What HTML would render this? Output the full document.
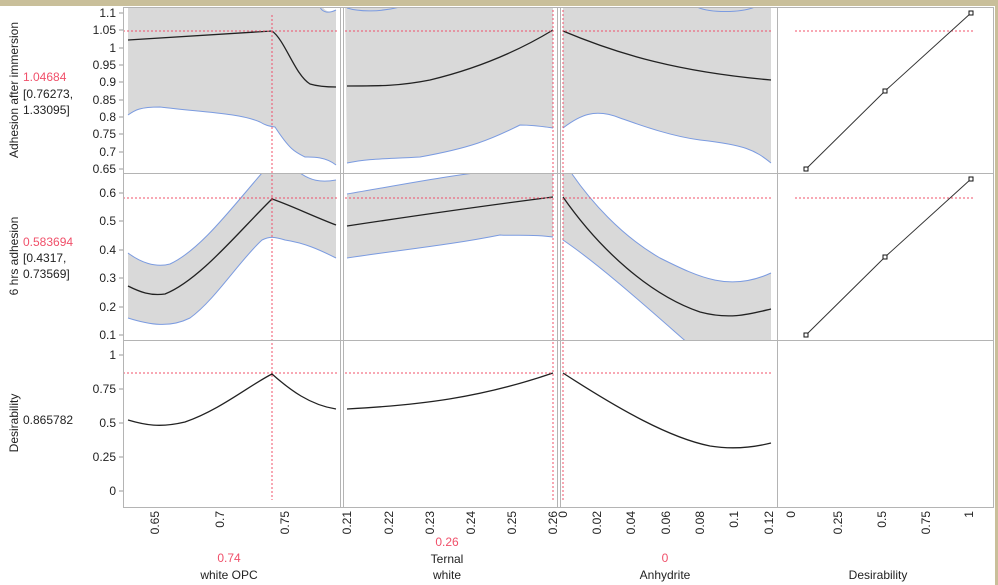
<!DOCTYPE html>
<html><head><meta charset="utf-8"><style>
html,body{margin:0;padding:0;background:#fff;}
svg{display:block;font-family:"Liberation Sans",sans-serif;}
</style></head><body>
<svg width="998" height="585" viewBox="0 0 998 585" xmlns="http://www.w3.org/2000/svg">
<rect x="0" y="0" width="998" height="585" fill="#fff"/>
<rect x="0" y="0" width="998" height="6" fill="#c9bf9a"/>
<rect x="995" y="0" width="3" height="585" fill="#c9bf9a"/>
<defs>
<clipPath id="r1"><rect x="123" y="7" width="871" height="166"/></clipPath>
<clipPath id="r2"><rect x="123" y="174" width="871" height="166"/></clipPath>
</defs>
<g clip-path="url(#r1)">
<path d="M128,0 L320,0 C322,10 328,14 336,10 L336,165 C325,156 310,157 305,157 C295,152 290,150 275,127 C268,126 265,125 260,122 C240,113 200,112 160,107 C140,107 135,110 128,115 Z" fill="#d9d9d9"/>
<path d="M128,115 C135,110 140,107 160,107 C200,112 240,113 260,122 C265,125 268,126 275,127 C290,150 295,152 305,157 C310,157 325,156 336,165" fill="none" stroke="#7b9be0" stroke-width="1"/>
<path d="M320,7 C322,12 328,14 336,10" fill="none" stroke="#7b9be0"/>
<path d="M128,40 L272,31 C285,40 295,75 310,84 C320,87 330,87 336,87" fill="none" stroke="#222" stroke-width="1.3"/>
<path d="M345,0 L553,0 L553,128 C540,126 530,125 520,125 C490,140 470,148 420,157 C390,159 370,158 347,163 Z" fill="#d9d9d9"/>
<path d="M347,163 C370,158 390,159 420,157 C470,148 490,140 520,125 C530,125 540,126 553,128" fill="none" stroke="#7b9be0"/>
<path d="M347,8 C360,12 380,12 400,7" fill="none" stroke="#7b9be0"/>
<path d="M347,86 C380,86 400,86 430,80 C480,68 520,50 553,30" fill="none" stroke="#222" stroke-width="1.3"/>
<path d="M563,0 L771,0 L771,163 C755,150 745,145 700,140 C670,136 640,125 620,118 C595,108 580,115 563,128 Z" fill="#d9d9d9"/>
<path d="M563,128 C580,115 595,108 620,118 C640,125 670,136 700,140 C745,145 755,150 771,163" fill="none" stroke="#7b9be0"/>
<path d="M697,7 C710,13 740,13 755,7" fill="none" stroke="#7b9be0"/>
<path d="M563,31 C620,55 680,72 771,80" fill="none" stroke="#222" stroke-width="1.3"/>
</g>
<g clip-path="url(#r2)">
<path d="M128,253 C140,262 155,268 170,264 C200,250 230,210 262,173 L300,173 C310,180 320,183 336,180 L336,258 C320,250 305,243 285,240 C275,237 270,236 262,240 C240,260 215,300 190,318 C170,328 150,325 128,318 Z" fill="#d9d9d9"/>
<path d="M128,253 C140,262 155,268 170,264 C200,250 230,210 262,173 M300,173 C310,180 320,183 336,180 M336,258 C320,250 305,243 285,240 C275,237 270,236 262,240 C240,260 215,300 190,318 C170,328 150,325 128,318" fill="none" stroke="#7b9be0"/>
<path d="M128,286 C140,292 150,296 165,294 C200,280 240,230 272,199 C290,205 310,215 336,225" fill="none" stroke="#222" stroke-width="1.3"/>
<path d="M347,194 C400,185 450,175 500,170 L553,168 L553,237 C530,234 510,236 500,235 C450,245 400,250 347,258 Z" fill="#d9d9d9"/>
<path d="M347,194 C400,185 450,175 500,170 L553,168 M553,237 C530,234 510,236 500,235 C450,245 400,250 347,258" fill="none" stroke="#7b9be0"/>
<path d="M347,226 C420,215 490,205 553,197" fill="none" stroke="#222" stroke-width="1.3"/>
<path d="M563,174 L572,174 C590,200 620,235 660,258 C700,278 730,292 771,273 L771,345 L690,345 C650,310 600,265 563,240 Z" fill="#d9d9d9"/>
<path d="M572,174 C590,200 620,235 660,258 C700,278 730,292 771,273 M563,240 C600,265 650,310 690,345" fill="none" stroke="#7b9be0"/>
<path d="M563,197 C600,250 650,295 700,312 C730,320 750,314 771,309" fill="none" stroke="#222" stroke-width="1.3"/>
</g>
<path d="M128,420 C145,425 160,428 185,422 C220,410 250,385 272,374 C290,390 310,405 336,409" fill="none" stroke="#222" stroke-width="1.3"/>
<path d="M347,409 C420,405 480,398 553,373" fill="none" stroke="#222" stroke-width="1.3"/>
<path d="M563,373 C620,410 670,438 710,446 C735,450 755,447 771,443" fill="none" stroke="#222" stroke-width="1.3"/>
<g stroke="#f0506a" stroke-width="1" stroke-dasharray="2,2" fill="none">
<path d="M123,31 H337 M345,31 H553 M565,31 H771 M795,31 H973"/>
<path d="M123,198 H337 M345,198 H553 M565,198 H771 M795,198 H973"/>
<path d="M123,373 H337 M345,373 H553 M565,373 H771"/>
<path d="M272,15 V500 M553,10 V500 M563,10 V500"/>
</g>
<g stroke="#333" fill="none">
<path d="M806,169 L885,91 L971,13"/>
<path d="M806,335 L885,257 L971,179"/>
</g>
<g fill="#fff" stroke="#111" stroke-width="1">
<rect x="804" y="167" width="4" height="4"/><rect x="883" y="89" width="4" height="4"/><rect x="969" y="11" width="4" height="4"/>
<rect x="804" y="333" width="4" height="4"/><rect x="883" y="255" width="4" height="4"/><rect x="969" y="177" width="4" height="4"/>
</g>
<g stroke="#b4b4b4" fill="none" stroke-width="1">
<rect x="123.5" y="7.5" width="870" height="500"/>
<path d="M123,173.5 H994 M123,340.5 H994"/>
<path d="M340.5,7 V508 M343.5,7 V508 M557.5,7 V508 M560.5,7 V508 M777.5,7 V508"/>
</g>
<g font-size="12" fill="#222" text-anchor="end">
<text x="116" y="17">1.1</text><text x="116" y="34">1.05</text><text x="116" y="52">1</text><text x="116" y="69">0.95</text><text x="116" y="86">0.9</text><text x="116" y="104">0.85</text><text x="116" y="121">0.8</text><text x="116" y="138">0.75</text><text x="116" y="156">0.7</text><text x="116" y="173">0.65</text>
<text x="116" y="197">0.6</text><text x="116" y="225">0.5</text><text x="116" y="254">0.4</text><text x="116" y="282">0.3</text><text x="116" y="311">0.2</text><text x="116" y="339">0.1</text>
<text x="116" y="359">1</text><text x="116" y="393">0.75</text><text x="116" y="427">0.5</text><text x="116" y="461">0.25</text><text x="116" y="495">0</text>
</g>
<g stroke="#999"><path d="M119,13H123M119,30H123M119,48H123M119,65H123M119,82H123M119,100H123M119,117H123M119,134H123M119,152H123M119,169H123M119,193H123M119,221H123M119,250H123M119,278H123M119,307H123M119,335H123M119,355H123M119,389H123M119,423H123M119,457H123M119,491H123"/></g>
<g font-size="12" fill="#222" text-anchor="end">
<text transform="translate(159,511) rotate(-90)">0.65</text>
<text transform="translate(224,511) rotate(-90)">0.7</text>
<text transform="translate(289,511) rotate(-90)">0.75</text>
<text transform="translate(351,511) rotate(-90)">0.21</text>
<text transform="translate(393,511) rotate(-90)">0.22</text>
<text transform="translate(434,511) rotate(-90)">0.23</text>
<text transform="translate(475,511) rotate(-90)">0.24</text>
<text transform="translate(516,511) rotate(-90)">0.25</text>
<text transform="translate(557,511) rotate(-90)">0.26</text>
<text transform="translate(567,511) rotate(-90)">0</text>
<text transform="translate(601,511) rotate(-90)">0.02</text>
<text transform="translate(635,511) rotate(-90)">0.04</text>
<text transform="translate(670,511) rotate(-90)">0.06</text>
<text transform="translate(704,511) rotate(-90)">0.08</text>
<text transform="translate(738,511) rotate(-90)">0.1</text>
<text transform="translate(773,511) rotate(-90)">0.12</text>
<text transform="translate(795,511) rotate(-90)">0</text>
<text transform="translate(842,511) rotate(-90)">0.25</text>
<text transform="translate(886,511) rotate(-90)">0.5</text>
<text transform="translate(930,511) rotate(-90)">0.75</text>
<text transform="translate(973,511) rotate(-90)">1</text>
</g>
<g font-size="12" text-anchor="middle">
<text x="229" y="562" fill="#f0506a">0.74</text>
<text x="229" y="579" fill="#222">white OPC</text>
<text x="447" y="546" fill="#f0506a">0.26</text>
<text x="447" y="563" fill="#222">Ternal</text>
<text x="447" y="579" fill="#222">white</text>
<text x="665" y="562" fill="#f0506a">0</text>
<text x="665" y="579" fill="#222">Anhydrite</text>
<text x="878" y="579" fill="#222">Desirability</text>
</g>
<g font-size="12" fill="#222">
<text transform="translate(18,90) rotate(-90)" text-anchor="middle">Adhesion after immersion</text>
<text transform="translate(18,256) rotate(-90)" text-anchor="middle">6 hrs adhesion</text>
<text transform="translate(18,423) rotate(-90)" text-anchor="middle">Desirability</text>
<text x="23" y="81" fill="#f0506a">1.04684</text>
<text x="23" y="98">[0.76273,</text>
<text x="23" y="114">1.33095]</text>
<text x="23" y="246" fill="#f0506a">0.583694</text>
<text x="23" y="262">[0.4317,</text>
<text x="23" y="278">0.73569]</text>
<text x="23" y="424">0.865782</text>
</g>
</svg>
</body></html>
